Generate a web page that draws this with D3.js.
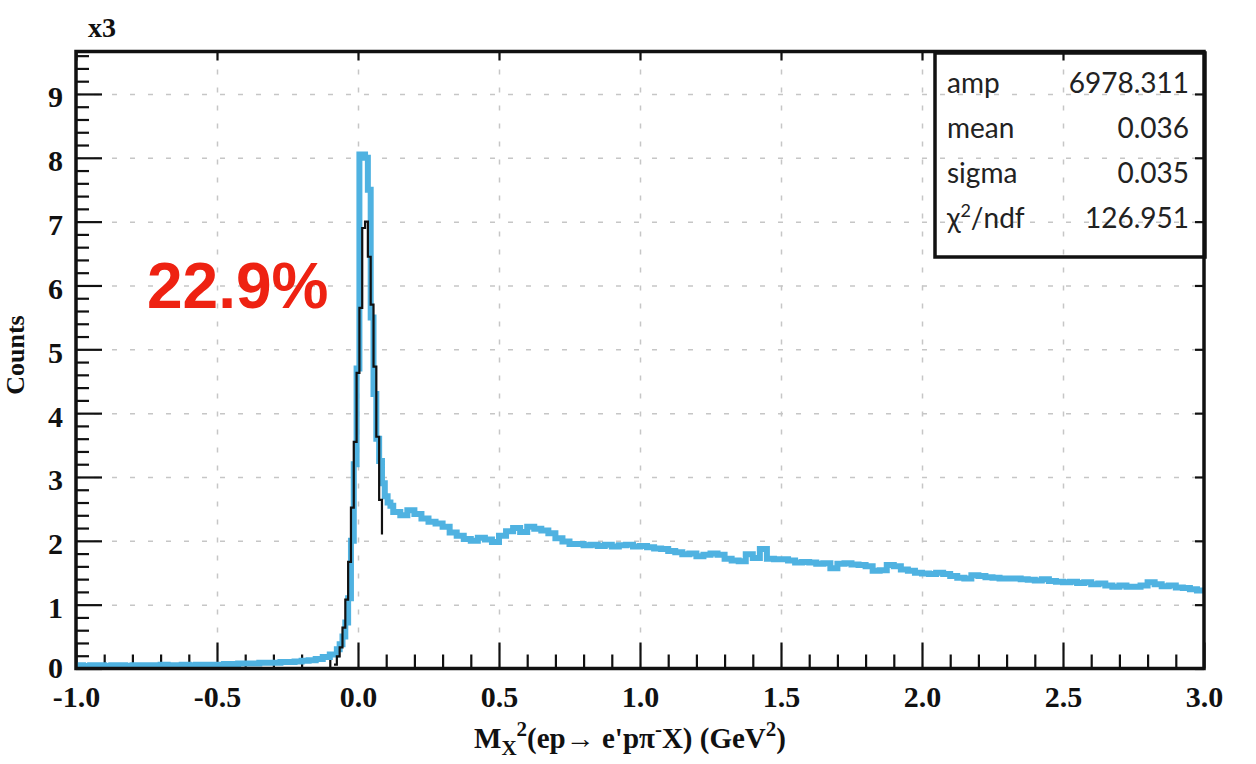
<!DOCTYPE html>
<html>
<head>
<meta charset="utf-8">
<script src="https://cdn.jsdelivr.net/npm/d3@7"></script>
<style>
  body { margin: 0; background: #fff; }
  .ticks text { font-family: "Liberation Serif", serif; font-weight: bold; font-size: 30px; fill: #111; }
  .ticks line { stroke: #111; stroke-width: 2.2; }
  .grid line { stroke: #c6c6c6; stroke-width: 1.5; stroke-dasharray: 5,13; }
</style>
</head>
<body>
<div id="chart"></div>
<script>
// Histogram counts (in thousands), split in three parts with their own bin width
let lowStart = -1.0, lowWidth = 0.025;
let lowCounts = [
  0.05, 0.04, 0.05, 0.05, 0.04, 0.05, 0.05, 0.04, 0.05, 0.05,
  0.05, 0.05, 0.06, 0.05, 0.05, 0.06, 0.05, 0.06, 0.06, 0.06,
  0.06, 0.07, 0.07, 0.08, 0.08, 0.08, 0.09, 0.09, 0.09, 0.10,
  0.10, 0.11, 0.12, 0.13, 0.15, 0.18, 0.22
];
let peakStart = -0.075, peakWidth = 0.01;
let peakCounts = [
  0.30, 0.38, 0.50, 0.72, 1.10, 2.00, 3.20, 4.70, 8.05, 8.05,
  8.00, 7.50, 5.50, 4.30, 3.60, 3.25, 2.90, 2.70, 2.60, 2.55
];
let tailStart = 0.125, tailWidth = 0.025;
let tailCounts = [
  2.45, 2.40, 2.48, 2.42, 2.35, 2.30, 2.27, 2.22, 2.13, 2.08,
  2.03, 2.00, 2.05, 2.02, 1.98, 2.08, 2.15, 2.20, 2.14, 2.22,
  2.19, 2.16, 2.12, 2.04, 1.99, 1.95, 1.95, 1.93, 1.94, 1.92,
  1.94, 1.91, 1.93, 1.94, 1.91, 1.92, 1.90, 1.88, 1.87, 1.84,
  1.82, 1.79, 1.80, 1.76, 1.78, 1.80, 1.78, 1.72, 1.69, 1.68,
  1.79, 1.73, 1.87, 1.72, 1.71, 1.71, 1.69, 1.66, 1.67, 1.66,
  1.64, 1.65, 1.57, 1.64, 1.65, 1.63, 1.62, 1.60, 1.53, 1.54,
  1.62, 1.60, 1.55, 1.53, 1.50, 1.49, 1.48, 1.50, 1.48, 1.45,
  1.42, 1.41, 1.46, 1.45, 1.43, 1.42, 1.41, 1.41, 1.41, 1.40,
  1.39, 1.38, 1.40, 1.37, 1.36, 1.35, 1.36, 1.34, 1.35, 1.32,
  1.33, 1.30, 1.28, 1.30, 1.28, 1.28, 1.30, 1.35, 1.32, 1.29,
  1.30, 1.27, 1.26, 1.24, 1.22
];

// Gaussian fit, drawn as steps, ends with a drop to fitEnd
let fitStart = -0.085, fitWidth = 0.01;
let fitCounts = [
  0.06, 0.19, 0.33, 0.64, 1.08, 1.67, 2.52, 3.55, 4.63, 5.65,
  6.90, 7.00, 6.45, 5.70, 4.73, 3.63, 2.64
];
let fitEnd = 2.10;

// Axis ticks
let xMajor = [-1.0, -0.5, 0.0, 0.5, 1.0, 1.5, 2.0, 2.5, 3.0];
let yMajor = [0, 1, 2, 3, 4, 5, 6, 7, 8, 9];

// Fit results box
let statNames = ["amp", "mean", "sigma", "χ2/ndf"];
let statValues = ["6978.311", "0.036", "0.035", "126.951"];

function stepPoints(start, width, counts) {
  let pts = [];
  counts.forEach(function(c, i) {
    pts.push([start + i * width, c]);
    pts.push([start + (i + 1) * width, c]);
  });
  return pts;
}

function massChart() {
  let margin = {top: 51.5, right: 52, bottom: 95.5, left: 76},
    width = 1256 - margin.left - margin.right,
    height = 764 - margin.top - margin.bottom;

  let root = d3.select("#chart")
    .append("svg")
    .attr("width", 1256)
    .attr("height", 764)
    .style("display", "block");

  let svg = root.append("g")
    .attr("transform", "translate(" + margin.left + "," + margin.top + ")");

  let x = d3.scaleLinear().domain([-1, 3]).range([0, width]);
  let y = d3.scaleLinear().domain([0, 9.665]).range([height, 0]);

  // dashed grid
  svg.append("g")
    .attr("class", "grid")
    .attr("transform", "translate(0," + height + ")")
    .call(d3.axisBottom(x).tickValues(xMajor.slice(1, -1)).tickSize(-height).tickFormat(""))
    .select(".domain").remove();
  svg.append("g")
    .attr("class", "grid")
    .call(d3.axisLeft(y).tickValues(yMajor.slice(1)).tickSize(-width).tickFormat(""))
    .select(".domain").remove();

  // minor ticks
  let xMinor = d3.range(-10, 31).map(d => d / 10).filter(d => xMajor.indexOf(d) < 0);
  let yMinor = d3.range(0, 49).map(d => d / 5).filter(d => d % 1 != 0);
  svg.append("g")
    .attr("class", "ticks")
    .attr("transform", "translate(0," + height + ")")
    .call(d3.axisBottom(x).tickValues(xMinor).tickSize(-14).tickFormat(""))
    .select(".domain").remove();
  svg.append("g")
    .attr("class", "ticks")
    .call(d3.axisLeft(y).tickValues(yMinor).tickSize(-13).tickFormat(""))
    .select(".domain").remove();

  // major ticks with labels
  svg.append("g")
    .attr("class", "ticks")
    .attr("transform", "translate(0," + height + ")")
    .call(d3.axisBottom(x).tickValues(xMajor).tickSize(-26).tickPadding(17).tickFormat(d => d.toFixed(1)))
    .select(".domain").remove();
  let yAxis = svg.append("g")
    .attr("class", "ticks")
    .call(d3.axisLeft(y).tickValues(yMajor).tickSize(-26).tickPadding(13).tickFormat(d3.format("d")));
  yAxis.select(".domain").remove();
  yAxis.selectAll("text").attr("dy", d => d == 0 ? "9px" : "13px");

  // short ticks on top and right
  svg.append("g")
    .attr("class", "ticks")
    .call(d3.axisTop(x).tickValues(xMajor).tickSize(-9).tickFormat(""))
    .select(".domain").remove();
  svg.append("g")
    .attr("class", "ticks")
    .attr("transform", "translate(" + width + ",0)")
    .call(d3.axisRight(y).tickValues(yMajor).tickSize(-9).tickFormat(""))
    .select(".domain").remove();

  // clip the lines to the frame
  svg.append("clipPath").attr("id", "plotClip")
    .append("rect").attr("width", width).attr("height", height);

  let line = d3.line().x(d => x(d[0])).y(d => y(d[1]));

  let histPts = stepPoints(lowStart, lowWidth, lowCounts)
    .concat(stepPoints(peakStart, peakWidth, peakCounts))
    .concat(stepPoints(tailStart, tailWidth, tailCounts));
  svg.append("path")
    .datum(histPts)
    .attr("clip-path", "url(#plotClip)")
    .attr("fill", "none")
    .attr("stroke", "#4fb2e1")
    .attr("stroke-width", 6)
    .attr("stroke-linejoin", "miter")
    .attr("d", line);

  let fitPts = stepPoints(fitStart, fitWidth, fitCounts);
  fitPts.push([fitStart + fitCounts.length * fitWidth, fitEnd]);
  svg.append("path")
    .datum(fitPts)
    .attr("fill", "none")
    .attr("stroke", "#111")
    .attr("stroke-width", 2.2)
    .attr("d", line);

  // frame
  svg.append("rect")
    .attr("width", width)
    .attr("height", height)
    .attr("fill", "none")
    .attr("stroke", "#111")
    .attr("stroke-width", 3.5);

  // x3 multiplier
  root.append("text")
    .attr("x", 88).attr("y", 37)
    .attr("font-family", "Liberation Serif").attr("font-weight", "bold")
    .attr("font-size", 28).attr("fill", "#111")
    .text("x3");

  // axis titles
  root.append("text")
    .attr("transform", "translate(24,355) rotate(-90)")
    .attr("text-anchor", "middle")
    .attr("font-family", "Liberation Serif").attr("font-weight", "bold")
    .attr("font-size", 26).attr("fill", "#111")
    .text("Counts");

  let xt = root.append("text")
    .attr("x", 630).attr("y", 748)
    .attr("text-anchor", "middle")
    .attr("font-family", "Liberation Serif").attr("font-weight", "bold")
    .attr("font-size", 29).attr("fill", "#111");
  xt.append("tspan").text("M");
  xt.append("tspan").attr("dy", 7).attr("font-size", 21).text("X");
  xt.append("tspan").attr("dy", -19).attr("font-size", 21).text("2");
  xt.append("tspan").attr("dy", 12).text("(ep\u2192 e'p\u03c0");
  xt.append("tspan").attr("dy", -12).attr("font-size", 21).text("-");
  xt.append("tspan").attr("dy", 12).text("X) (GeV");
  xt.append("tspan").attr("dy", -12).attr("font-size", 21).text("2");
  xt.append("tspan").attr("dy", 12).text(")");

  // efficiency label
  root.append("text")
    .attr("x", 147).attr("y", 308)
    .attr("font-family", "Liberation Sans").attr("font-weight", "bold")
    .attr("font-size", 64).attr("fill", "#ee2212")
    .text("22.9%");

  // fit results box
  root.append("rect")
    .attr("x", 935).attr("y", 53)
    .attr("width", 270).attr("height", 204)
    .attr("fill", "none")
    .attr("stroke", "#111")
    .attr("stroke-width", 3.5);

  statNames.forEach(function(name, i) {
    let t = root.append("text")
      .attr("x", 947).attr("y", 93 + i * 45)
      .attr("font-family", "Lato").attr("font-size", 28).attr("fill", "#222");
    if (name.indexOf("χ2") == 0) {
      t.append("tspan").text("χ");
      t.append("tspan").attr("dy", -11).attr("font-size", 18).text("2");
      t.append("tspan").attr("dy", 11).text(name.slice(2));
    } else {
      t.text(name);
    }
    root.append("text")
      .attr("x", 1189).attr("y", 93 + i * 45)
      .attr("text-anchor", "end")
      .attr("font-family", "Lato").attr("font-size", 28).attr("fill", "#222")
      .text(statValues[i]);
  });
}

massChart();
</script>
</body>
</html>
